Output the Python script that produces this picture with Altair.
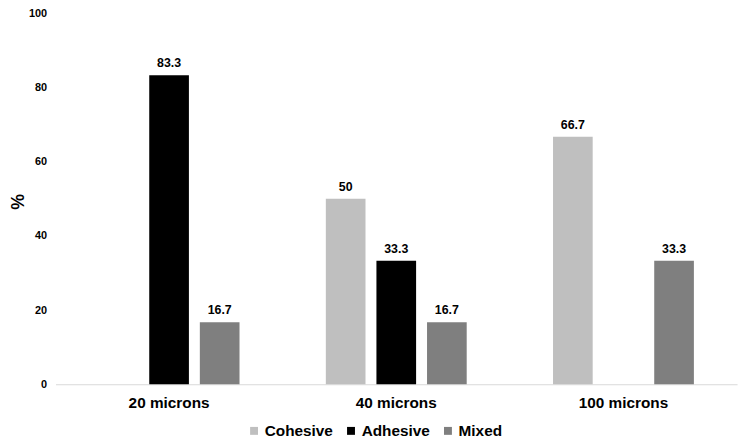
import altair as alt
import pandas as pd

categories = ["20 microns", "40 microns", "100 microns"]
series = ["Cohesive", "Adhesive", "Mixed"]
cohesive = [None, 50, 66.7]
adhesive = [83.3, 33.3, None]
mixed = [16.7, 16.7, 33.3]
labels_txt = {"Cohesive": ["", "50", "66.7"], "Adhesive": ["83.3", "33.3", ""], "Mixed": ["16.7", "16.7", "33.3"]}
colors = ["#bfbfbf", "#000000", "#7f7f7f"]

rows = []
for s, vals in zip(series, [cohesive, adhesive, mixed]):
    for i, (c, v) in enumerate(zip(categories, vals)):
        if v is not None:
            rows.append({"cat": c, "series": s, "value": v, "label": labels_txt[s][i]})
df = pd.DataFrame(rows)

FONT = "Liberation Sans"

x = alt.X("cat:N", sort=categories, title=None,
          scale=alt.Scale(domain=categories, paddingInner=0, paddingOuter=0),
          axis=alt.Axis(labelAngle=0, ticks=False, domainColor="#d9d9d9", labelFont=FONT,
                        labelFontSize=15.5, labelFontWeight="bold", labelColor="#000000", labelPadding=11))
xo = alt.XOffset("series:N", scale=alt.Scale(domain=series, paddingInner=0.216, paddingOuter=0.853))
y = alt.Y("value:Q", title="%", scale=alt.Scale(domain=[0, 100], nice=False),
          axis=alt.Axis(values=[0, 20, 40, 60, 80, 100], grid=False, domain=False, ticks=False,
                        labelFont=FONT, labelFontSize=11, labelFontWeight="bold", labelColor="#000000",
                        labelPadding=9, titleFont=FONT, titleFontSize=18, titleFontWeight="bold",
                        titleColor="#000000", titleX=-37, titleY=190, titleBaseline="middle"))

color = alt.Color("series:N", scale=alt.Scale(domain=series, range=colors),
                  legend=alt.Legend(title=None, orient="none", direction="horizontal",
                                    legendX=193, legendY=414, symbolType="square", symbolSize=64,
                                    symbolStrokeWidth=0, labelFont=FONT, labelFontSize=15.5,
                                    labelFontWeight="bold", labelColor="#000000", labelOffset=3,
                                    columnPadding=10))

bars = alt.Chart(df).mark_bar().encode(x=x, xOffset=xo, y=y, color=color)
text = alt.Chart(df).mark_text(baseline="bottom", dy=-5, font=FONT, fontSize=12.5, fontWeight="bold",
                               color="#000000").encode(x=x, xOffset=xo, y=y, text="label:N")

chart = (bars + text).properties(
    width=689, height=375,
    autosize=alt.AutoSizeParams(type="none"),
    padding={"left": 48, "top": 3, "right": 5, "bottom": 56},
).configure_view(stroke=None)

chart.save("out.html", embed_options={"renderer": "svg", "actions": False})
